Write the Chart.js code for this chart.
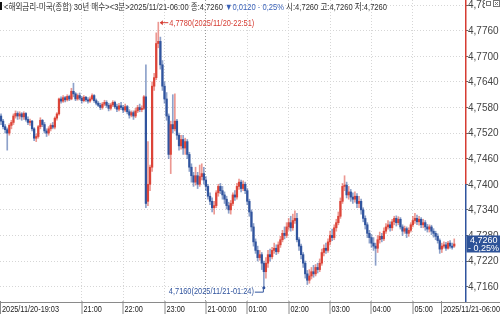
<!DOCTYPE html>
<html><head><meta charset="utf-8">
<script src="https://cdn.jsdelivr.net/npm/chart.js@4"></script>
<style>html,body{margin:0;padding:0;background:#fff;overflow:hidden}canvas{display:block}</style>
</head><body>
<canvas id="c" width="500" height="314"></canvas>
<script>
const openP=[4.7560,4.7548,4.7535,4.7528,4.7520,4.7538,4.7545,4.7560,4.7566,4.7560,
4.7565,4.7558,4.7566,4.7552,4.7545,4.7548,4.7530,4.7508,4.7512,4.7535,
4.7550,4.7540,4.7525,4.7520,4.7530,4.7538,4.7534,4.7555,4.7565,4.7600,
4.7595,4.7603,4.7598,4.7606,4.7600,4.7618,4.7612,4.7600,4.7608,4.7602,
4.7596,4.7604,4.7598,4.7595,4.7600,4.7608,4.7596,4.7590,4.7585,4.7580,
4.7588,4.7592,4.7585,4.7578,4.7586,4.7592,4.7582,4.7576,4.7584,4.7580,
4.7574,4.7582,4.7570,4.7562,4.7568,4.7560,4.7572,4.7580,4.7575,4.7578,
4.7605,4.7360,4.7400,4.7440,4.7630,4.7650,4.7730,4.7735,4.7680,4.7630,
4.7600,4.7560,4.7470,4.7540,4.7530,4.7548,4.7515,4.7490,4.7505,4.7485,
4.7500,4.7470,4.7440,4.7420,4.7405,4.7420,4.7400,4.7418,4.7425,4.7410,
4.7395,4.7372,4.7360,4.7345,4.7350,4.7380,4.7395,4.7385,4.7375,4.7365,
4.7350,4.7340,4.7355,4.7375,4.7370,4.7395,4.7405,4.7390,4.7400,4.7385,
4.7360,4.7335,4.7300,4.7265,4.7245,4.7228,4.7235,4.7215,4.7195,4.7215,
4.7235,4.7230,4.7245,4.7250,4.7242,4.7258,4.7270,4.7285,4.7280,4.7300,
4.7310,4.7298,4.7315,4.7320,4.7270,4.7255,4.7235,4.7215,4.7190,4.7175,
4.7185,4.7195,4.7190,4.7205,4.7200,4.7215,4.7240,4.7250,4.7245,4.7265,
4.7280,4.7275,4.7298,4.7310,4.7325,4.7360,4.7395,4.7398,4.7375,4.7382,
4.7370,4.7365,4.7372,4.7355,4.7360,4.7340,4.7320,4.7305,4.7285,4.7275,
4.7262,4.7255,4.7250,4.7270,4.7278,4.7272,4.7290,4.7300,4.7305,4.7298,
4.7312,4.7320,4.7310,4.7318,4.7300,4.7290,4.7296,4.7285,4.7292,4.7305,
4.7315,4.7320,4.7312,4.7318,4.7305,4.7310,4.7300,4.7295,4.7300,4.7290,
4.7285,4.7278,4.7268,4.7248,4.7255,4.7258,4.7250,4.7262,4.7255,4.7255];
const highP=[4.7565,4.7552,4.7540,4.7532,4.7542,4.7550,4.7565,4.7572,4.7570,4.7570,
4.7568,4.7570,4.7568,4.7558,4.7553,4.7550,4.7533,4.7518,4.7538,4.7556,
4.7552,4.7545,4.7530,4.7535,4.7542,4.7545,4.7558,4.7568,4.7602,4.7605,
4.7608,4.7606,4.7610,4.7609,4.7625,4.7637,4.7615,4.7612,4.7614,4.7606,
4.7608,4.7606,4.7603,4.7605,4.7612,4.7610,4.7600,4.7594,4.7590,4.7592,
4.7597,4.7596,4.7590,4.7590,4.7596,4.7595,4.7588,4.7590,4.7592,4.7585,
4.7588,4.7585,4.7575,4.7572,4.7572,4.7578,4.7585,4.7588,4.7584,4.7608,
4.7680,4.7500,4.7445,4.7640,4.7660,4.7755,4.7780,4.7745,4.7690,4.7640,
4.7615,4.7565,4.7548,4.7610,4.7612,4.7552,4.7520,4.7515,4.7515,4.7508,
4.7505,4.7475,4.7448,4.7428,4.7440,4.7428,4.7445,4.7448,4.7440,4.7418,
4.7400,4.7380,4.7368,4.7360,4.7385,4.7400,4.7402,4.7395,4.7382,4.7372,
4.7358,4.7362,4.7380,4.7385,4.7402,4.7412,4.7410,4.7408,4.7405,4.7390,
4.7365,4.7340,4.7308,4.7272,4.7255,4.7245,4.7240,4.7220,4.7228,4.7245,
4.7248,4.7252,4.7262,4.7258,4.7265,4.7278,4.7292,4.7300,4.7310,4.7320,
4.7325,4.7330,4.7338,4.7332,4.7275,4.7260,4.7240,4.7220,4.7198,4.7200,
4.7205,4.7210,4.7212,4.7215,4.7225,4.7248,4.7258,4.7262,4.7272,4.7290,
4.7295,4.7305,4.7318,4.7335,4.7368,4.7402,4.7420,4.7405,4.7395,4.7388,
4.7380,4.7382,4.7378,4.7372,4.7365,4.7345,4.7326,4.7310,4.7292,4.7282,
4.7275,4.7262,4.7280,4.7288,4.7285,4.7298,4.7308,4.7315,4.7312,4.7318,
4.7325,4.7326,4.7324,4.7322,4.7305,4.7302,4.7300,4.7298,4.7310,4.7325,
4.7332,4.7328,4.7325,4.7322,4.7318,4.7315,4.7306,4.7305,4.7304,4.7296,
4.7290,4.7284,4.7272,4.7262,4.7265,4.7264,4.7266,4.7268,4.7262,4.7272];
const lowP=[4.7540,4.7530,4.7520,4.7480,4.7515,4.7530,4.7540,4.7555,4.7552,4.7553,
4.7550,4.7552,4.7548,4.7540,4.7538,4.7525,4.7502,4.7500,4.7508,4.7530,
4.7535,4.7520,4.7512,4.7515,4.7525,4.7530,4.7530,4.7550,4.7562,4.7590,
4.7592,4.7593,4.7595,4.7596,4.7598,4.7605,4.7596,4.7597,4.7598,4.7590,
4.7593,4.7594,4.7590,4.7592,4.7597,4.7592,4.7586,4.7582,4.7575,4.7576,
4.7584,4.7580,4.7572,4.7574,4.7582,4.7578,4.7570,4.7572,4.7575,4.7568,
4.7570,4.7565,4.7555,4.7558,4.7552,4.7556,4.7568,4.7570,4.7570,4.7575,
4.7345,4.7350,4.7385,4.7430,4.7620,4.7645,4.7720,4.7670,4.7620,4.7590,
4.7550,4.7460,4.7425,4.7520,4.7525,4.7505,4.7480,4.7482,4.7470,4.7470,
4.7460,4.7430,4.7405,4.7395,4.7398,4.7390,4.7395,4.7410,4.7400,4.7385,
4.7365,4.7352,4.7335,4.7330,4.7345,4.7372,4.7378,4.7365,4.7355,4.7342,
4.7332,4.7330,4.7350,4.7362,4.7365,4.7388,4.7382,4.7385,4.7378,4.7352,
4.7325,4.7290,4.7255,4.7238,4.7220,4.7222,4.7200,4.7160,4.7180,4.7205,
4.7220,4.7225,4.7238,4.7235,4.7238,4.7252,4.7265,4.7272,4.7275,4.7292,
4.7290,4.7292,4.7308,4.7265,4.7245,4.7225,4.7205,4.7180,4.7165,4.7168,
4.7178,4.7182,4.7185,4.7192,4.7195,4.7210,4.7232,4.7238,4.7240,4.7258,
4.7268,4.7270,4.7290,4.7305,4.7320,4.7355,4.7385,4.7368,4.7365,4.7360,
4.7355,4.7358,4.7345,4.7345,4.7330,4.7312,4.7295,4.7275,4.7262,4.7252,
4.7245,4.7210,4.7240,4.7262,4.7265,4.7268,4.7285,4.7295,4.7290,4.7292,
4.7305,4.7302,4.7305,4.7295,4.7280,4.7285,4.7275,4.7278,4.7288,4.7300,
4.7308,4.7305,4.7304,4.7298,4.7298,4.7292,4.7288,4.7288,4.7282,4.7276,
4.7270,4.7262,4.7238,4.7240,4.7250,4.7245,4.7248,4.7250,4.7248,4.7252];
const closeP=[4.7548,4.7535,4.7528,4.7520,4.7538,4.7545,4.7560,4.7566,4.7560,4.7565,
4.7558,4.7566,4.7552,4.7545,4.7548,4.7530,4.7508,4.7512,4.7535,4.7550,
4.7540,4.7525,4.7520,4.7530,4.7538,4.7534,4.7555,4.7565,4.7600,4.7595,
4.7603,4.7598,4.7606,4.7600,4.7618,4.7612,4.7600,4.7608,4.7602,4.7596,
4.7604,4.7598,4.7595,4.7600,4.7608,4.7596,4.7590,4.7585,4.7580,4.7588,
4.7592,4.7585,4.7578,4.7586,4.7592,4.7582,4.7576,4.7584,4.7580,4.7574,
4.7582,4.7570,4.7562,4.7568,4.7560,4.7572,4.7580,4.7575,4.7578,4.7605,
4.7355,4.7400,4.7440,4.7630,4.7650,4.7730,4.7735,4.7680,4.7630,4.7600,
4.7560,4.7470,4.7540,4.7530,4.7548,4.7515,4.7490,4.7505,4.7485,4.7500,
4.7470,4.7440,4.7420,4.7405,4.7420,4.7400,4.7418,4.7425,4.7410,4.7395,
4.7372,4.7360,4.7345,4.7350,4.7380,4.7395,4.7385,4.7375,4.7365,4.7350,
4.7340,4.7355,4.7375,4.7370,4.7395,4.7405,4.7390,4.7400,4.7385,4.7360,
4.7335,4.7300,4.7265,4.7245,4.7228,4.7235,4.7215,4.7195,4.7215,4.7235,
4.7230,4.7245,4.7250,4.7242,4.7258,4.7270,4.7285,4.7280,4.7300,4.7310,
4.7298,4.7315,4.7320,4.7270,4.7255,4.7235,4.7215,4.7190,4.7175,4.7185,
4.7195,4.7190,4.7205,4.7200,4.7215,4.7240,4.7250,4.7245,4.7265,4.7280,
4.7275,4.7298,4.7310,4.7325,4.7360,4.7395,4.7398,4.7375,4.7382,4.7370,
4.7365,4.7372,4.7355,4.7360,4.7340,4.7320,4.7305,4.7285,4.7275,4.7262,
4.7255,4.7250,4.7270,4.7278,4.7272,4.7290,4.7300,4.7305,4.7298,4.7312,
4.7320,4.7310,4.7318,4.7300,4.7290,4.7296,4.7285,4.7292,4.7305,4.7315,
4.7320,4.7312,4.7318,4.7305,4.7310,4.7300,4.7295,4.7300,4.7290,4.7285,
4.7278,4.7268,4.7248,4.7255,4.7258,4.7250,4.7262,4.7255,4.7252,4.7260];

const yTickValues=[4.7160,4.7220,4.7280,4.7340,4.7400,4.7460,4.7520,4.7580,4.7640,4.7700,4.7760,4.7820];
const xTickIndex=[0,39,59,79,99,119,139,159,179,199,219];
const xTickText=['2025/11/20-19:03','21:00','22:00','23:00','21-00:00','01:00','02:00','03:00','04:00','05:00','2025/11/21-06:00'];
const xGridIndex=[39,59,79,99,119,139,159,179,199];
const dateChangeIndex=99;
const titleParts=[['<해외금리-미국(종합) 30년 매수><3분>2025/11/21-06:00 종:4,7260 ','#333'],['▼0,0120 - 0,25%','#3a62b8'],[' 시:4,7260 고:4,7260 저:4,7260','#333']];
const lastPrice=4.7260, lastText='4,7260', lastChange='- 0,25%';
const highMark={i:76,v:4.7780,text:'4,7780(2025/11/20-22:51)'};
const lowMark={i:127,v:4.7160,text:'4,7160(2025/11/21-01:24)'};
const axisSplit=4.7400;

const UP='rgb(220,68,56)', DN='rgb(48,84,158)';
const UPW='rgba(220,68,56,0.55)', DNW='rgba(48,84,158,0.55)';
const colors=closeP.map((c,i)=>c>=openP[i]?UP:DN);
const wickColors=closeP.map((c,i)=>c>=openP[i]?UPW:DNW);
const FONT='"Liberation Sans","Noto Sans CJK KR",sans-serif';

function fitText(ctx,text,x,y,sx,align){
  ctx.save();ctx.translate(x,y);ctx.scale(sx,1);ctx.textAlign=align||'left';ctx.fillText(text,0,0);ctx.restore();
}

const deco={id:'deco',afterDraw(chart){
  const ctx=chart.ctx, xs=chart.scales.x, ys=chart.scales.y, ca=chart.chartArea;
  ctx.save();
  // y labels
  ctx.font='10px "Liberation Sans",sans-serif';ctx.fillStyle='#444';ctx.textBaseline='middle';ctx.textAlign='left';
  yTickValues.forEach(v=>{ctx.fillText(v.toFixed(4).replace('.',','),ca.right+3,ys.getPixelForValue(v)+0.5);});
  // right axis line red/blue
  const ySplit=ys.getPixelForValue(axisSplit);
  ctx.lineWidth=1.5;
  ctx.strokeStyle='rgb(214,60,50)';ctx.beginPath();ctx.moveTo(ca.right+0.75,0);ctx.lineTo(ca.right+0.75,ySplit);ctx.stroke();
  ctx.strokeStyle='rgb(48,84,158)';ctx.beginPath();ctx.moveTo(ca.right+0.75,ySplit);ctx.lineTo(ca.right+0.75,ca.bottom);ctx.stroke();
  // bottom axis
  ctx.lineWidth=1;ctx.strokeStyle='#8a8a8a';
  ctx.beginPath();ctx.moveTo(0,ca.bottom+0.5);ctx.lineTo(500,ca.bottom+0.5);ctx.stroke();
  ctx.font='9px '+FONT;ctx.fillStyle='#222';ctx.textBaseline='alphabetic';
  const sxX=57/ctx.measureText(xTickText[0]).width;
  xTickIndex.forEach((idx,k)=>{
    const t=xTickText[k];
    let x;
    if(k===0) x=0; else if(k===xTickIndex.length-1) x=500-ctx.measureText(t).width*sxX-2; else x=Math.round(xs.getPixelForValue(idx))-0.5;
    ctx.beginPath();ctx.moveTo(x+0.5,ca.bottom-1);ctx.lineTo(x+0.5,314);ctx.stroke();
    fitText(ctx,t,x+2,311.5,sxX,'left');
  });
  // title
  ctx.fillStyle='#111';ctx.fillRect(0,2,2,8);
  let tw=0;titleParts.forEach(p=>tw+=ctx.measureText(p[0]).width);
  const sxT=383/tw;let tx=4;
  titleParts.forEach(p=>{ctx.fillStyle=p[1];fitText(ctx,p[0],tx,9.5,sxT,'left');tx+=ctx.measureText(p[0]).width*sxT;});
  // high marker
  const hx=xs.getPixelForValue(highMark.i), hy=ys.getPixelForValue(highMark.v);
  ctx.strokeStyle='rgb(214,60,50)';ctx.fillStyle='rgb(214,60,50)';
  ctx.beginPath();ctx.moveTo(hx+2,hy+0.5);ctx.lineTo(hx+10,hy+0.5);ctx.stroke();
  ctx.beginPath();ctx.moveTo(hx+1.5,hy+0.5);ctx.lineTo(hx+4.5,hy-2);ctx.lineTo(hx+4.5,hy+3);ctx.closePath();ctx.fill();
  const sxM=85/ctx.measureText(highMark.text).width;
  ctx.textBaseline='middle';
  fitText(ctx,highMark.text,hx+11,hy+1,sxM,'left');
  // low marker
  const lx=xs.getPixelForValue(lowMark.i), ly=ys.getPixelForValue(lowMark.v);
  ctx.strokeStyle='rgb(48,84,158)';ctx.fillStyle='rgb(48,84,158)';
  const ty=ly+5;
  fitText(ctx,lowMark.text,lx-10,ty,sxM,'right');
  ctx.beginPath();ctx.moveTo(lx-9,ty+0.5);ctx.lineTo(lx-0.5,ty+0.5);ctx.lineTo(lx-0.5,ly+1);ctx.stroke();
  ctx.beginPath();ctx.arc(lx,ly+1,1.5,0,Math.PI*2);ctx.fill();
  // last price box
  const py=ys.getPixelForValue(lastPrice);
  ctx.fillStyle='rgb(45,82,152)';ctx.fillRect(ca.right+1.5,py-8.5,500-ca.right,17);
  ctx.fillStyle='#fff';ctx.font='9px '+FONT;ctx.textBaseline='alphabetic';
  ctx.fillText(lastText,ca.right+5,py-0.5);
  ctx.fillText(lastChange,ca.right+3,py+7.5);
  // top-right icons
  ctx.fillStyle='#fff';ctx.fillRect(485,0,15,8);
  ctx.strokeStyle='#777';ctx.lineWidth=1;
  ctx.strokeRect(486.5,1.5,4,4);ctx.beginPath();ctx.moveTo(487,1.5);ctx.lineTo(490,1.5);ctx.stroke();
  ctx.strokeRect(493.5,0.5,6,6);
  ctx.beginPath();ctx.moveTo(495,2);ctx.lineTo(498,5);ctx.moveTo(498,2);ctx.lineTo(495,5);ctx.stroke();
  ctx.restore();
}};

new Chart(document.getElementById('c'),{
  type:'bar',
  data:{datasets:[
    {data:openP.map((o,i)=>({x:i,y:[o,closeP[i]]})),backgroundColor:colors,barThickness:1.6,minBarLength:1,grouped:false,order:0},
    {data:lowP.map((l,i)=>({x:i,y:[l,highP[i]]})),backgroundColor:wickColors,barThickness:1,grouped:false,order:1}
  ]},
  options:{
    responsive:false,animation:false,devicePixelRatio:1,
    layout:{padding:0},
    plugins:{legend:{display:false},tooltip:{enabled:false},title:{display:false}},
    scales:{
      x:{type:'linear',min:-0.5,max:224.2,offset:false,
        afterFit(s){s.height=12;},
        afterBuildTicks(s){s.ticks=xGridIndex.map(v=>({value:v}));},
        ticks:{display:false},
        grid:{drawTicks:false,offset:false,color:c=>(c.tick&&c.tick.value===dateChangeIndex)?'#9a9a9a':'#d6d6d6'},
        border:{display:false,dash:[1,2]}},
      y:{position:'right',min:4.7124,max:4.7832,
        afterFit(s){s.width=35;},
        afterBuildTicks(s){s.ticks=yTickValues.map(v=>({value:v}));},
        ticks:{display:false},
        grid:{color:'#d6d6d6',tickLength:3,tickColor:'#666'},
        border:{display:false,dash:[1,2]}}
    }
  },
  plugins:[deco]
});
</script>
</body></html>
